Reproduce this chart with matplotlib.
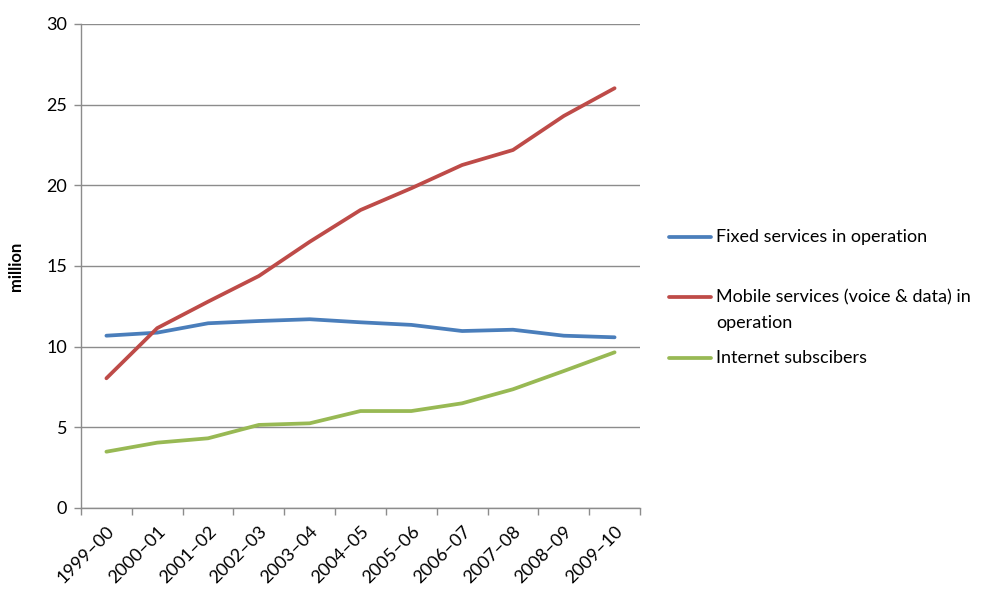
import matplotlib
matplotlib.use("Agg")
import matplotlib.pyplot as plt
from matplotlib.lines import Line2D
import numpy as np

years = ["1999–00", "2000–01", "2001–02", "2002–03", "2003–04", "2004–05",
         "2005–06", "2006–07", "2007–08", "2008–09", "2009–10"]
fixed = [10.68, 10.87, 11.45, 11.59, 11.70, 11.51, 11.35, 10.97, 11.05, 10.68, 10.58]
mobile = [8.04, 11.15, 12.79, 14.38, 16.5, 18.47, 19.82, 21.26, 22.19, 24.30, 26.02]
internet = [3.49, 4.05, 4.32, 5.15, 5.25, 6.01, 6.01, 6.49, 7.36, 8.49, 9.65]

labels = ["Fixed services in operation",
          "Mobile services (voice & data) in\noperation",
          "Internet subscibers"]
colors = ["#4a7ebb", "#be4b48", "#98b954"]

plt.rcParams["font.family"] = ["Lato", "DejaVu Sans"]
grey = "#8c8c8c"

fig = plt.figure(figsize=(9.81, 5.90), dpi=100)
ax = fig.add_axes([81 / 981, 1 - 508 / 590, 559 / 981, 484 / 590])

x = np.arange(len(years))
for series, color in zip((fixed, mobile, internet), colors):
    ax.plot(x, series, color=color, linewidth=2.7, solid_capstyle="round", zorder=3)

ax.set_xlim(-0.5, len(years) - 0.5)
ax.set_ylim(0, 30)
ax.set_yticks(np.arange(0, 31, 5))
ax.yaxis.grid(True, color=grey, linewidth=1.0)
ax.set_axisbelow(True)

ax.set_xticks(x)
ax.set_xticklabels(years, rotation=45, ha="right", rotation_mode="anchor")
ax.set_xticks(np.arange(-0.5, len(years)), minor=True)
ax.tick_params(axis="x", which="major", length=0, pad=11, labelsize=13)
ax.tick_params(axis="x", which="minor", length=5, color=grey, width=1)
ax.tick_params(axis="y", length=5, color=grey, width=1, labelsize=13, pad=5)

for side in ("top", "right"):
    ax.spines[side].set_visible(False)
for side in ("left", "bottom"):
    ax.spines[side].set_color(grey)
    ax.spines[side].set_linewidth(1.0)

ax.set_ylabel("million", fontsize=12, fontweight="bold")
ax.yaxis.set_label_coords(-0.102, 0.5)

# legend drawn by hand to match the uneven spacing
legend_y = [237, 297, 358]
for label, color, py in zip(labels, colors, legend_y):
    yf = 1 - py / 590
    fig.add_artist(Line2D([669 / 981, 711 / 981], [yf, yf], color=color,
                          linewidth=2.7, solid_capstyle="round"))
    fig.text(716 / 981, yf + 8 / 590, label, fontsize=13, va="top", ha="left",
             linespacing=1.75)

fig.savefig("out.png", dpi=100)
